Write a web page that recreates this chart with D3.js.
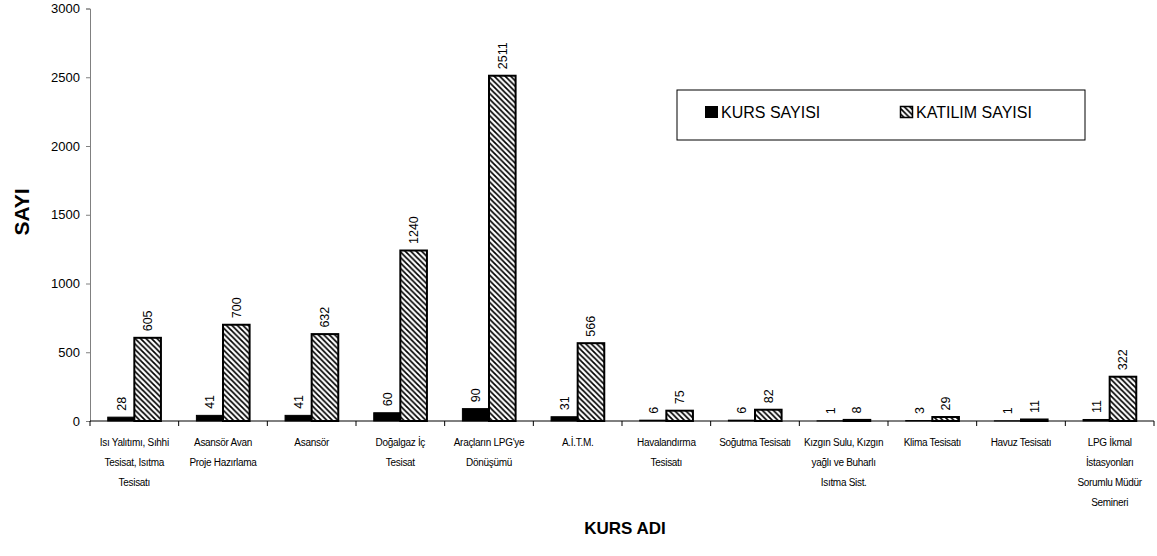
<!DOCTYPE html>
<html><head><meta charset="utf-8">
<script src="https://cdn.jsdelivr.net/npm/d3@7"></script>
<style>body{margin:0;background:#fff}svg{display:block}text{font-family:"Liberation Sans",Arial,sans-serif}</style>
</head><body><svg id="c" width="1157" height="556"></svg>
<script>
const categories = [
 "Isı Yalıtımı, Sıhhi\nTesisat, Isıtma\nTesisatı",
 "Asansör Avan\nProje Hazırlama",
 "Asansör",
 "Doğalgaz İç\nTesisat",
 "Araçların LPG'ye\nDönüşümü",
 "A.İ.T.M.",
 "Havalandırma\nTesisatı",
 "Soğutma Tesisatı",
 "Kızgın Sulu, Kızgın\nyağlı ve Buharlı\nIsıtma Sist.",
 "Klima Tesisatı",
 "Havuz Tesisatı",
 "LPG İkmal\nİstasyonları\nSorumlu Müdür\nSemineri"
];
const kursSayisi = [28, 41, 41, 60, 90, 31, 6, 6, 1, 3, 1, 11];
const katilimSayisi = [605, 700, 632, 1240, 2511, 566, 75, 82, 8, 29, 11, 322];
const yTicks = [0, 500, 1000, 1500, 2000, 2500, 3000];
const seriesNames = ["KURS SAYISI", "KATILIM SAYISI"];

const svg = d3.select("#c");
const defs = svg.append("defs");
const pat = defs.append("pattern").attr("id","hatch").attr("patternUnits","userSpaceOnUse")
  .attr("width",5.5).attr("height",5.5);
pat.append("rect").attr("width",5.5).attr("height",5.5).attr("fill","#fff");
pat.append("path").attr("d","M-1,-1 L6.5,6.5 M-1,4.5 L1,6.5 M4.5,-1 L6.5,1").attr("stroke","#000").attr("stroke-width",1.7);

const x = d3.scaleBand().domain(categories).range([90, 1154]).padding(0);
const y = d3.scaleLinear().domain([0, 3000]).range([421, 8.5]);
const bw = x.bandwidth() * 0.3;

// y axis
const ya = svg.append("g").attr("transform","translate(90,0)")
  .call(d3.axisLeft(y).tickValues(yTicks).tickFormat(d3.format("d")).tickSize(4).tickPadding(6));
ya.select(".domain").attr("stroke","#808080");
ya.selectAll(".tick line").attr("stroke","#808080");
ya.selectAll("text").attr("font-size",13).attr("font-family","Liberation Sans, Arial").attr("fill","#000");

// x axis
const xa = svg.append("g").attr("transform","translate(0,421)");
xa.append("line").attr("x1",90).attr("x2",1154).attr("stroke","#000");
const bounds = categories.map(c => x(c)).concat([x(categories[categories.length-1]) + x.bandwidth()]);
xa.selectAll("line.t").data(bounds).enter().append("line").attr("class","t")
  .attr("x1",d=>d).attr("x2",d=>d).attr("y1",0).attr("y2",5).attr("stroke","#000");

// category labels
categories.forEach(c => {
  const t = svg.append("text").attr("text-anchor","middle").attr("font-size",10)
    .attr("letter-spacing","-0.3");
  c.split("\n").forEach((ln,i) => {
    t.append("tspan").attr("x", x(c) + x.bandwidth()/2).attr("y", 446 + i*20).text(ln);
  });
});

const data = categories.map((c,i) => ({c, k: kursSayisi[i], p: katilimSayisi[i]}));
// bars
const g = svg.append("g");
data.forEach(d => {
  const cx = x(d.c) + x.bandwidth()/2;
  g.append("rect").attr("x", cx - bw).attr("width", bw)
    .attr("y", y(d.k)).attr("height", y(0) - y(d.k))
    .attr("fill","#000").attr("stroke","#000").attr("stroke-width",1);
  g.append("rect").attr("x", cx).attr("width", bw)
    .attr("y", y(d.p)).attr("height", y(0) - y(d.p))
    .attr("fill","url(#hatch)").attr("stroke","#000").attr("stroke-width",2);
  [[cx - bw/2, d.k],[cx + bw/2, d.p]].forEach(([lx, v]) => {
    const ty = y(v) - 6.5;
    svg.append("text").attr("transform",`translate(${lx + 4.5},${ty}) rotate(-90)`)
      .attr("font-size",12.5).attr("text-anchor","start").text(v);
  });
});

// axis titles
svg.append("text").attr("transform","translate(29,212) rotate(-90)").attr("text-anchor","middle")
  .attr("font-size",21).attr("font-weight","bold").text("SAYI");
svg.append("text").attr("x",625).attr("y",534).attr("text-anchor","middle")
  .attr("font-size",17).attr("font-weight","bold").text("KURS ADI");

// legend
const lg = svg.append("g");
lg.append("rect").attr("x",677).attr("y",90).attr("width",408).attr("height",50)
  .attr("fill","#fff").attr("stroke","#000").attr("stroke-width",1);
lg.append("rect").attr("x",705).attr("y",106).attr("width",13).attr("height",12).attr("fill","#000");
lg.append("text").attr("x",721).attr("y",118).attr("font-size",16).text(seriesNames[0]);
lg.append("rect").attr("x",900.5).attr("y",106.5).attr("width",12).attr("height",11)
  .attr("fill","url(#hatch)").attr("stroke","#000").attr("stroke-width",1.5);
lg.append("text").attr("x",916).attr("y",118).attr("font-size",16).text(seriesNames[1]);
</script></body></html>
